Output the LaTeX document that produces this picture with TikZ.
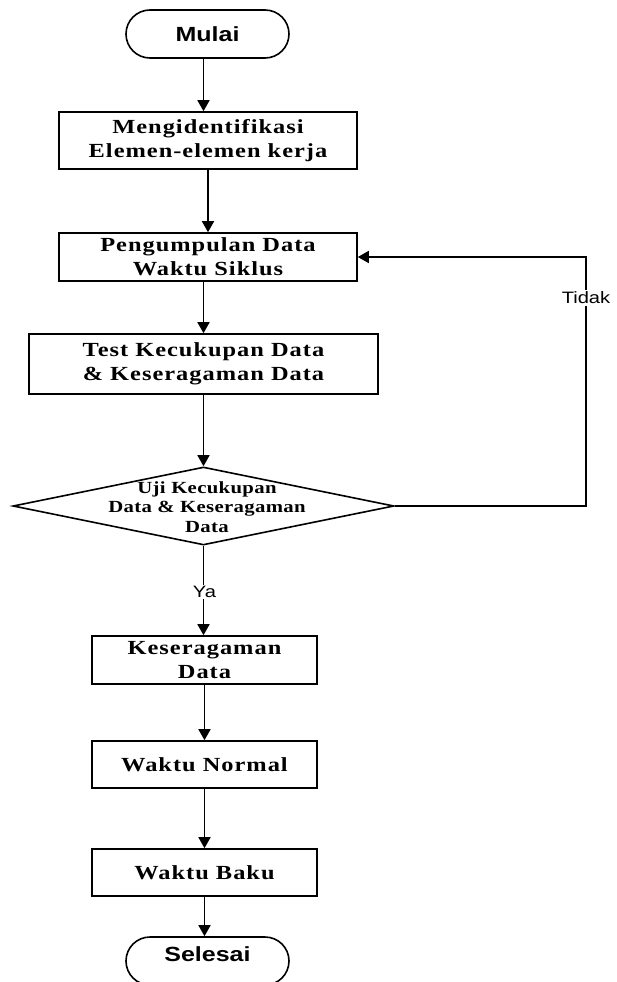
\documentclass[tikz,border=0pt]{standalone}
\usepackage{fontspec}
\setmainfont{Liberation Serif}
\newfontfamily\boxfont{Liberation Serif}[FakeStretch=1.22,LetterSpace=5]
\newfontfamily\decfont{Liberation Serif}[FakeStretch=1.22,LetterSpace=2]
\newfontfamily\labelfont{Liberation Sans}[FakeStretch=1.22]
\usetikzlibrary{shapes.geometric,arrows.meta,calc}

\tikzset{
  procbox/.style={draw, line width=1.6pt, rectangle, inner sep=0pt, align=center,
    font=\boxfont\bfseries\fontsize{20}{24}\selectfont},
  termbox/.style={draw, line width=1.6pt, rectangle, rounded corners=24pt,
    minimum width=163pt, minimum height=48pt, inner sep=0pt,
    font=\labelfont\bfseries\fontsize{20.5}{24}\selectfont},
  decbox/.style={draw, diamond, line width=1.6pt, minimum width=381pt,
    minimum height=78pt, inner sep=0pt},
  dectext/.style={align=center, inner sep=0pt,
    font=\decfont\bfseries\fontsize{17}{19.5}\selectfont},
  branch/.style={fill=white, inner sep=1.5pt,
    font=\labelfont\fontsize{16.5}{18}\selectfont},
  arr/.style={line width=1.6pt, -{Triangle[length=11pt,width=12pt]}},
}

\begin{document}
\begin{tikzpicture}[x=1pt,y=-1pt]
  \useasboundingbox (0,0) rectangle (617,982);

  % process steps
  \node[termbox] (start) at (207.5,34) {Mulai};
  \node[procbox, minimum width=298pt, minimum height=57pt] (b1) at (208,140.5)
    {Mengidentifikasi\\Elemen-elemen kerja};
  \node[procbox, minimum width=298pt, minimum height=48pt] (b2) at (208,257)
    {Pengumpulan Data\\Waktu Siklus};
  \node[procbox, minimum width=349pt, minimum height=60pt] (b3) at (203.5,364)
    {Test Kecukupan Data\\\& Keseragaman Data};
  \node[decbox] (dec) at (203.5,506) {};
  \node[dectext] (dect) at (207,507)
    {Uji Kecukupan\\Data \& Keseragaman\\Data};
  \node[procbox, minimum width=225pt, minimum height=48pt] (b4) at (204.5,660)
    {Keseragaman\\Data};
  \node[procbox, minimum width=225pt, minimum height=47pt] (b5) at (204.5,764.5)
    {Waktu Normal};
  \node[procbox, minimum width=225pt, minimum height=47pt] (b6) at (204.5,872.5)
    {Waktu Baku};
  \node[termbox, text height=15pt, text depth=15pt] (end) at (207.5,961) {Selesai};

  % main flow
  \draw[arr] (start.south -| dec) -- (b1.north -| dec);
  \draw[arr] (b1) -- (b1 |- b2.north);
  \draw[arr] (b2.south -| b3) -- (b3.north);
  \draw[arr] (b3) -- (b3 |- dec.north);
  \draw[arr] (dec) -- (dec |- b4.north);
  \draw[arr] (b4) -- (b4 |- b5.north);
  \draw[arr] (b5) -- (b5 |- b6.north);
  \draw[arr] (b6) -- (b6 |- end.north);

  % loop back when the data test fails
  \coordinate (loopx) at (586,506);
  \draw[arr] (dec.east) -- (loopx) |- (b2.east);

  % branch labels
  \node[branch] (ya) at (204.5,592) {Ya};
  \node[branch] (tidak) at (586,298) {Tidak};
\end{tikzpicture}
\end{document}
